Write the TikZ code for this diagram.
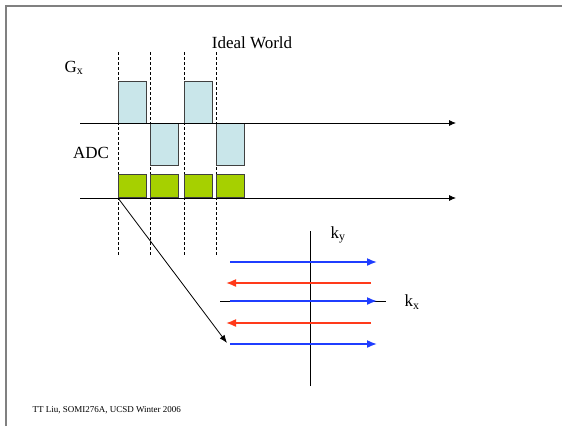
\documentclass[tikz,border=0pt]{standalone}
\usepackage{fontspec}
\setmainfont{Liberation Serif}
\usepackage{xcolor}
\usetikzlibrary{arrows.meta,positioning}
\definecolor{gradblue}{HTML}{C9E6EA}
\definecolor{adcgreen}{HTML}{A6D000}
\definecolor{kblue}{HTML}{1F3DFF}
\definecolor{kred}{HTML}{FF3A1A}
\definecolor{edgegray}{HTML}{404040}

\begin{document}
\begin{tikzpicture}[x=1pt,y=-1pt, every node/.style={font=\fontsize{17}{20}\selectfont}]
    \tikzstyle{lobe}=[draw=edgegray,fill=gradblue,line width=0.9pt,minimum width=28pt,minimum height=42pt,inner sep=0pt,anchor=north west]
    \tikzstyle{sample}=[draw=edgegray,fill=adcgreen,line width=0.9pt,minimum width=28pt,minimum height=23pt,inner sep=0pt,anchor=south west]
    \tikzstyle{timeaxis}=[-{Latex[length=7pt,width=6pt]},line width=0.8pt]
    \tikzstyle{readout}=[-{Latex[length=10pt,width=8pt]},line width=1.6pt]
    \useasboundingbox (0,0) rectangle (562,426);
    \draw[gray,line width=1.2pt] (6,426) -- (6,6) -- (562,6);
    % echo boundaries
    \foreach \t in {118,150,184,216}
        \draw[dash pattern=on 3pt off 2pt,line width=0.6pt] (\t,52) -- (\t,256);
    % labels
    \node (title) at (252,43) {Ideal World};
    \node (gxlab) at (74,68) {G\textsubscript{x}};
    \node (adclab) at (91,153) {ADC};
    % gradient lobes
    \node[lobe] (g1) at (118,81) {};
    \node[lobe] (g2) at (150,123) {};
    \node[lobe] (g3) at (184,81) {};
    \node[lobe] (g4) at (216,123) {};
    % sampling windows
    \node[sample] (s1) at (118,198) {};
    \node[sample] (s2) at (150,198) {};
    \node[sample] (s3) at (184,198) {};
    \node[sample] (s4) at (216,198) {};
    % time axes
    \coordinate (gxstart) at (80,123);
    \coordinate (gxend) at (456,123);
    \coordinate (adcstart) at (80,198);
    \coordinate (adcend) at (456,198);
    \draw[timeaxis] (gxstart) -- (gxend);
    \draw[timeaxis] (adcstart) -- (adcend);
    % k-space
    \coordinate (kybot) at (310,386);
    \coordinate (kytop) at (310,231);
    \coordinate (kxleft) at (220,301);
    \coordinate (kxright) at (386,301);
    \draw[line width=0.9pt] (kybot) -- (kytop);
    \draw[line width=0.9pt] (kxleft) -- (kxright);
    \node (kylab) at (338,235) {k\textsubscript{y}};
    \node (kxlab) at (412,302) {k\textsubscript{x}};
    \coordinate (r1a) at (230,262); \coordinate (r1b) at (377,262);
    \coordinate (r2a) at (371,283); \coordinate (r2b) at (226,283);
    \coordinate (r3a) at (230,301); \coordinate (r3b) at (377,301);
    \coordinate (r4a) at (371,323); \coordinate (r4b) at (226,323);
    \coordinate (r5a) at (230,344); \coordinate (r5b) at (377,344);
    \draw[readout,kblue] (r1a) -- (r1b);
    \draw[readout,kred] (r2a) -- (r2b);
    \draw[readout,kblue] (r3a) -- (r3b);
    \draw[readout,kred] (r4a) -- (r4b);
    \draw[readout,kblue] (r5a) -- (r5b);
    \coordinate (lastline) at (227,343);
    \draw[-{Latex[length=8pt,width=6pt]},line width=0.8pt] (s1.south west) -- (lastline);
    \node[font=\fontsize{9}{10}\selectfont,anchor=west] (footer) at (29,410) {TT Liu, SOMI276A, UCSD Winter 2006};
\end{tikzpicture}
\end{document}
